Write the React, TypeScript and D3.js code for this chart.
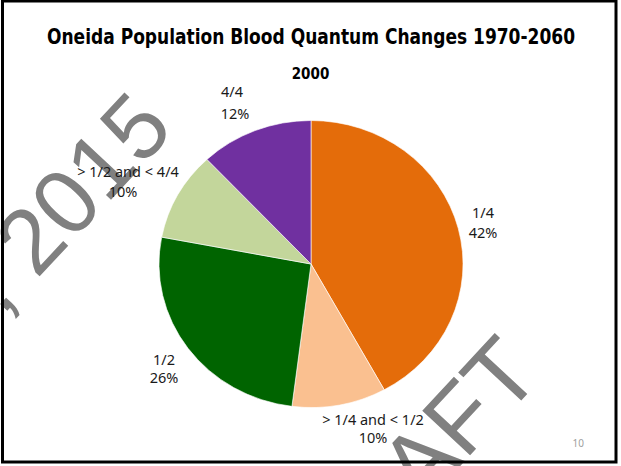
import React, { Component } from 'react';
import * as d3 from 'd3';

const title = 'Oneida Population Blood Quantum Changes 1970-2060';
const year = '2000';
const categories = ['1/4', '> 1/4 and < 1/2', '1/2', '> 1/2 and < 4/4', '4/4'];
const shares = [42, 10, 26, 10, 12];
const sliceColors = ['#E46C0A', '#FAC090', '#006400', '#C3D69B', '#7030A0'];
const pageNumber = '10';
const watermarks = [', 2015', 'DRAFT'];

// where powerpoint left each data label (x center, baseline of first line, line gap)
const labelSpots = [
  { x: 483, y: 218, gap: 20 },
  { x: 373, y: 425, gap: 18 },
  { x: 164, y: 365, gap: 18 },
  { x: 128, y: 177, gap: 20, x2: 123 },
  { x: 232, y: 97, gap: 22, x2: 235 },
];

class App extends Component {
  node: SVGSVGElement | null = null;

  componentDidMount() {
    this.createGraph();
  }

  createGraph = () => {
    const svg = d3.select(this.node);
    svg.selectAll('*').remove();

    var width = 621;
    var height = 466;

    svg.append('rect')
      .attr('width', width)
      .attr('height', height)
      .attr('fill', '#fff');

    // watermark sits under everything
    const wm = svg.append('g')
      .attr('fill', '#808080')
      .attr('font-family', '"Liberation Sans", Arial, sans-serif');

    wm.append('text')
      .attr('transform', 'translate(176,130) rotate(-47)')
      .attr('text-anchor', 'end')
      .attr('font-size', 92)
      .text(watermarks[0]);

    wm.append('text')
      .attr('transform', 'translate(544,376) rotate(-47)')
      .attr('text-anchor', 'end')
      .attr('font-size', 95)
      .text(watermarks[1]);

    // slide frame
    svg.append('rect')
      .attr('x', 2.5)
      .attr('y', 1)
      .attr('width', 613.5)
      .attr('height', 461)
      .attr('fill', 'none')
      .attr('stroke', '#000')
      .attr('stroke-width', 3);

    svg.append('text')
      .attr('x', 47)
      .attr('y', 43.5)
      .attr('font-family', '"DejaVu Sans Condensed", "DejaVu Sans", sans-serif')
      .attr('font-weight', 'bold')
      .attr('font-size', 21)
      .attr('textLength', 528)
      .attr('lengthAdjust', 'spacingAndGlyphs')
      .text(title);

    svg.append('text')
      .attr('x', 310.5)
      .attr('y', 78.5)
      .attr('text-anchor', 'middle')
      .attr('font-family', '"DejaVu Sans Condensed", "DejaVu Sans", sans-serif')
      .attr('font-weight', 'bold')
      .attr('font-size', 15)
      .text(year);

    const data = categories.map((c, i) => ({ label: c, value: shares[i], color: sliceColors[i] }));

    const pie = d3.pie<any>()
      .sort(null)
      .value(d => d.value);

    // the slide is a bit stretched sideways, so the pie is too
    const r = 143.5;
    const arc = d3.arc<any>()
      .innerRadius(0)
      .outerRadius(r);

    const pieG = svg.append('g')
      .attr('transform', `translate(311,264) scale(${152 / r},1)`);

    pieG.selectAll('path')
      .data(pie(data))
      .enter()
      .append('path')
      .attr('d', arc)
      .attr('fill', d => d.data.color)
      .attr('stroke', '#fff')
      .attr('stroke-width', 0.6);

    const labels = svg.append('g')
      .attr('font-family', '"Noto Sans", "Open Sans", sans-serif')
      .attr('font-size', 14.5)
      .attr('fill', '#1a1a1a')
      .attr('text-anchor', 'middle');

    data.forEach((d, i) => {
      const spot = labelSpots[i];
      labels.append('text')
        .attr('x', spot.x)
        .attr('y', spot.y)
        .text(d.label);
      labels.append('text')
        .attr('x', spot.x2 || spot.x)
        .attr('y', spot.y + spot.gap)
        .text(d.value + '%');
    });

    svg.append('text')
      .attr('x', 584)
      .attr('y', 447)
      .attr('text-anchor', 'end')
      .attr('font-family', '"Noto Sans", sans-serif')
      .attr('font-size', 10)
      .attr('fill', '#a0a0a0')
      .text(pageNumber);
  };

  render() {
    return (
      <div style={{ position: 'absolute', left: 0, top: 0 }}>
        <svg ref={node => { this.node = node; }} width={621} height={466} style={{ display: 'block' }}>
        </svg>
      </div>
    );
  }
}

export default App;
